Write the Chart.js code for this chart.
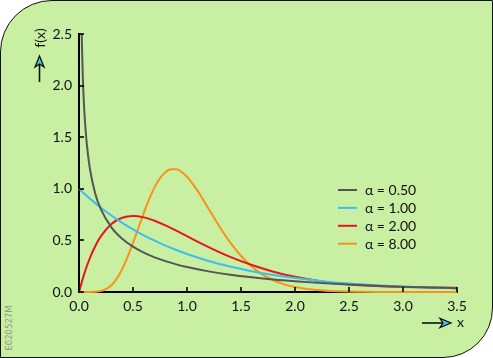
<!DOCTYPE html>
<html>
<head>
<meta charset="utf-8">
<script src="https://cdn.jsdelivr.net/npm/chart.js@4/dist/chart.umd.min.js"></script>
<style>
  html, body { margin: 0; padding: 0; background: #ffffff; }
  #wrap { position: relative; width: 493px; height: 358px; overflow: hidden; }
  #panel {
    position: absolute; left: 0px; top: 0px; width: 493px; height: 358px;
    background: #c9efa2; border: 1.6px solid #111;
    border-radius: 52px 0 50px 0; box-sizing: border-box;
  }
  #wm {
    position: absolute; left: -19px; top: 322px; width: 56px; height: 12px;
    transform: rotate(-90deg); font: 8.5px "DejaVu Sans", sans-serif; color: #8d9b88;
    text-align: center; line-height: 12px;
  }
  canvas { position: absolute; left: 0; top: 0; }
</style>
</head>
<body>
<div id="wrap">
  <div id="panel"></div>
  <div id="wm">E020527M</div>
  <canvas id="c" width="493" height="358"></canvas>
</div>
<script>
// ---- data ----
const seriesLabels = ["α = 0.50", "α = 1.00", "α = 2.00", "α = 8.00"];
const seriesColors = ["#555555", "#3dbdf0", "#e8141f", "#f7921b"];

const xAlpha050 = [0.025, 0.035, 0.05, 0.07, 0.1, 0.15, 0.2, 0.3, 0.4, 0.5, 0.6, 0.7, 0.8, 0.9, 1.0, 1.2, 1.4, 1.6, 1.8, 2.0, 2.25, 2.5, 2.75, 3.0, 3.25, 3.5];
const yAlpha050 = [2.5, 2.09, 1.74, 1.46, 1.20, 0.955, 0.807, 0.627, 0.516, 0.439, 0.381, 0.336, 0.299, 0.268, 0.242, 0.200, 0.167, 0.142, 0.121, 0.104, 0.086, 0.072, 0.061, 0.051, 0.044, 0.037];

const xAlpha100 = [0, 0.05, 0.1, 0.15, 0.2, 0.3, 0.4, 0.5, 0.6, 0.7, 0.8, 0.9, 1.0, 1.2, 1.4, 1.6, 1.8, 2.0, 2.25, 2.5, 2.75, 3.0, 3.25, 3.5];
const yAlpha100 = [1.0, 0.951, 0.905, 0.861, 0.819, 0.741, 0.670, 0.607, 0.549, 0.497, 0.449, 0.407, 0.368, 0.301, 0.247, 0.202, 0.165, 0.135, 0.105, 0.082, 0.065, 0.052, 0.043, 0.035];

const xAlpha200 = [0, 0.05, 0.1, 0.15, 0.2, 0.3, 0.4, 0.5, 0.6, 0.7, 0.8, 0.9, 1.0, 1.2, 1.4, 1.6, 1.8, 2.0, 2.25, 2.5, 2.75, 3.0, 3.25, 3.5];
const yAlpha200 = [0, 0.181, 0.327, 0.444, 0.536, 0.659, 0.719, 0.736, 0.723, 0.690, 0.646, 0.595, 0.541, 0.435, 0.340, 0.261, 0.197, 0.147, 0.102, 0.073, 0.058, 0.049, 0.044, 0.040];

const xAlpha800 = [0, 0.1, 0.2, 0.25, 0.3, 0.35, 0.4, 0.45, 0.5, 0.55, 0.6, 0.65, 0.7, 0.75, 0.8, 0.85, 0.9, 0.95, 1.0, 1.1, 1.2, 1.3, 1.4, 1.5, 1.6, 1.7, 1.8, 1.9, 2.0, 2.2, 2.4, 2.6, 2.8, 3.0, 3.5];
const yAlpha800 = [0, 0.0002, 0.009, 0.028, 0.066, 0.130, 0.222, 0.340, 0.476, 0.622, 0.767, 0.900, 1.014, 1.102, 1.160, 1.189, 1.189, 1.163, 1.117, 0.978, 0.807, 0.635, 0.480, 0.349, 0.247, 0.169, 0.114, 0.074, 0.048, 0.019, 0.007, 0.0025, 0.001, 0.0003, 0];

const xTickValues = [0, 0.5, 1.0, 1.5, 2.0, 2.5, 3.0, 3.5];
const yTickValues = [0, 0.5, 1.0, 1.5, 2.0, 2.5];
const xAxisTitle = "x";
const yAxisTitle = "f(x)";

// ---- build datasets ----
function pts(xs, ys) { return xs.map((x, i) => ({ x: x, y: ys[i] })); }
const allX = [xAlpha050, xAlpha100, xAlpha200, xAlpha800];
const allY = [yAlpha050, yAlpha100, yAlpha200, yAlpha800];
const datasets = seriesLabels.map((lab, i) => ({
  label: lab,
  data: pts(allX[i], allY[i]),
  borderColor: seriesColors[i],
  backgroundColor: seriesColors[i],
  borderWidth: 2,
  pointRadius: 0,
  cubicInterpolationMode: 'monotone',
  fill: false,
  clip: 3
}));

const FONT = 'Lato, "Open Sans", sans-serif';

function arrowHead(ctx, tipX, tipY, dir) {
  ctx.save();
  ctx.translate(tipX, tipY);
  if (dir === 'right') ctx.rotate(Math.PI / 2);
  ctx.beginPath();
  ctx.moveTo(0, 0);
  ctx.lineTo(4.5, 11);
  ctx.lineTo(0, 8);
  ctx.lineTo(-4.5, 11);
  ctx.closePath();
  ctx.fillStyle = '#4cc3ee';
  ctx.fill();
  ctx.lineWidth = 1.3;
  ctx.strokeStyle = '#111';
  ctx.stroke();
  ctx.restore();
}

const decor = {
  id: 'decor',
  afterDraw(chart) {
    const ctx = chart.ctx;
    const xs = chart.scales.x, ys = chart.scales.y;
    const ca = chart.chartArea;
    ctx.save();
    // inward tick marks
    ctx.strokeStyle = '#000';
    ctx.lineWidth = 1.6;
    xTickValues.forEach(v => {
      const px = Math.round(xs.getPixelForValue(v));
      ctx.beginPath(); ctx.moveTo(px, ca.bottom); ctx.lineTo(px, ca.bottom - 5); ctx.stroke();
    });
    yTickValues.forEach(v => {
      const py = Math.round(ys.getPixelForValue(v));
      ctx.beginPath(); ctx.moveTo(ca.left, py); ctx.lineTo(ca.left + 5, py); ctx.stroke();
    });

    // legend
    ctx.font = '14px ' + FONT;
    ctx.textBaseline = 'middle';
    ctx.textAlign = 'left';
    seriesLabels.forEach((lab, i) => {
      const y = 190 + i * 17.9;
      ctx.strokeStyle = seriesColors[i];
      ctx.lineWidth = 2;
      ctx.beginPath(); ctx.moveTo(338, y); ctx.lineTo(357, y); ctx.stroke();
      ctx.fillStyle = '#111';
      ctx.fillText(lab, 365, y + 0.5);
    });

    // y axis title (rotated) + up arrow
    ctx.save();
    ctx.translate(40, 38);
    ctx.rotate(-Math.PI / 2);
    ctx.textAlign = 'center';
    ctx.textBaseline = 'middle';
    ctx.fillStyle = '#111';
    ctx.font = '14px ' + FONT;
    ctx.fillText(yAxisTitle, 0, 0);
    ctx.restore();
    ctx.strokeStyle = '#111';
    ctx.lineWidth = 1.6;
    ctx.beginPath(); ctx.moveTo(39.5, 82); ctx.lineTo(39.5, 62); ctx.stroke();
    arrowHead(ctx, 39.5, 56, 'up');

    // x axis title + right arrow
    ctx.beginPath(); ctx.moveTo(422, 323); ctx.lineTo(444, 323); ctx.stroke();
    arrowHead(ctx, 451, 323, 'right');
    ctx.fillStyle = '#111';
    ctx.font = '14px ' + FONT;
    ctx.textAlign = 'left';
    ctx.textBaseline = 'middle';
    ctx.fillText(xAxisTitle, 457, 322);
    ctx.restore();
  }
};

new Chart(document.getElementById('c'), {
  type: 'line',
  data: { datasets: datasets },
  options: {
    responsive: false,
    animation: false,
    events: [],
    layout: { padding: { left: 0, top: 34, right: 36, bottom: 0 } },
    plugins: { legend: { display: false }, tooltip: { enabled: false } },
    scales: {
      x: {
        type: 'linear', min: 0, max: 3.5,
        afterFit(s) { s.height = 66; },
        afterBuildTicks(s) { s.ticks = xTickValues.map(v => ({ value: v })); },
        grid: { display: false, drawTicks: false },
        border: { display: true, color: '#000', width: 2 },
        ticks: { padding: 6, color: '#111', font: { family: FONT, size: 14 },
                 maxRotation: 0, autoSkip: false, callback: v => Number(v).toFixed(1) }
      },
      y: {
        type: 'linear', min: 0, max: 2.5,
        afterFit(s) { s.width = 79; },
        afterBuildTicks(s) { s.ticks = yTickValues.map(v => ({ value: v })); },
        grid: { display: false, drawTicks: false },
        border: { display: true, color: '#000', width: 2 },
        ticks: { padding: 7, color: '#111', font: { family: FONT, size: 14 },
                 autoSkip: false, callback: v => Number(v).toFixed(1) }
      }
    }
  },
  plugins: [decor]
});
</script>
</body>
</html>
